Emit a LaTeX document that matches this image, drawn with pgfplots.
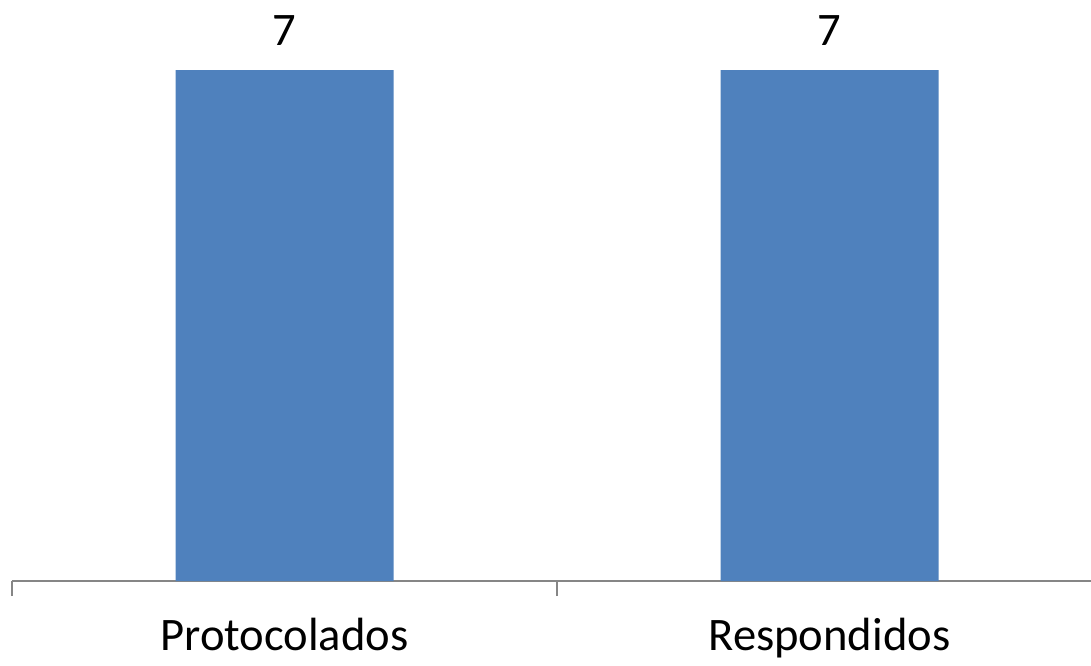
\documentclass[border=0pt]{standalone}
\usepackage{fontspec}
\setmainfont{Carlito}
\usepackage{pgfplots}
\pgfplotsset{compat=1.18}
\definecolor{barblue}{HTML}{4F81BD}
\definecolor{axisgray}{HTML}{868686}
\begin{document}
\begin{tikzpicture}
  \begin{axis}[
    at={(6pt,42pt)}, anchor=south west,
    scale only axis,
    width=545pt, height=292pt,
    xmin=-0.5, xmax=1.5,
    ymin=0, ymax=8,
    clip=false,
    axis x line*=bottom,
    axis y line=none,
    x axis line style={draw=axisgray, line width=0.9pt},
    xtick={0,1},
    xticklabels={Protocolados,Respondidos},
    major tick length=0pt,
    minor xtick={-0.5,0.5,1.5},
    minor tick length=7.5pt,
    tick align=outside,
    minor tick style={draw=axisgray, line width=0.9pt},
    xticklabel style={font=\fontsize{23.3}{28}\selectfont, anchor=base, yshift=-34.5pt},
    ybar,
    bar width=109pt,
    /pgf/number format/assume math mode=true,
    nodes near coords,
    nodes near coords style={font=\fontsize{23.3}{28}\selectfont, anchor=base, yshift=12.5pt},
  ]
    \addplot[fill=barblue, draw=none] coordinates {(0,7) (1,7)};
  \end{axis}
  \pgfresetboundingbox
  \path[use as bounding box] (0,0) rectangle (545.5pt,332.5pt);
\end{tikzpicture}
\end{document}
